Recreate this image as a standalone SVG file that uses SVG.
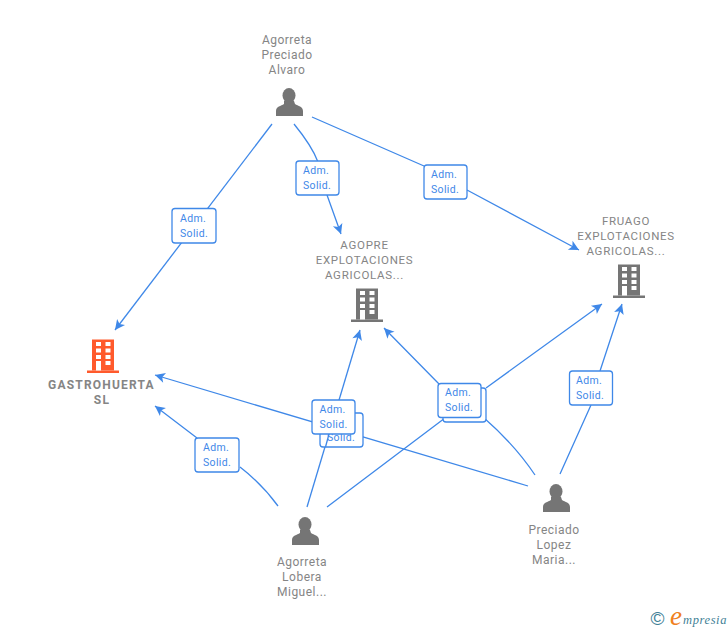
<svg xmlns="http://www.w3.org/2000/svg" width="728" height="630" viewBox="0 0 728 630">
<style>
text{font-family:Roboto,"Liberation Sans",sans-serif}
.l{font-size:12px;fill:#858585;text-anchor:middle;letter-spacing:.5px}
.c{font-size:11.5px;fill:#858585;text-anchor:middle;letter-spacing:.7px}
.b{font-weight:700;font-size:12px;letter-spacing:1.2px}
.e{fill:none;stroke:#3f88e8;stroke-width:1.3}
.bx{fill:#fff;stroke:#3f88e8;stroke-width:1.3}
.t{font-size:10.5px;fill:#3f88e8;letter-spacing:.35px}
.p{fill:#757575}
.w{fill:#fff}
</style>
<defs>
<marker id="a" markerUnits="userSpaceOnUse" markerWidth="14" markerHeight="14" refX="10" refY="5" orient="auto" overflow="visible"><path d="M0 0L10 5L0 10L2.500 5Z" fill="#3f88e8"/></marker>
<g id="person"><ellipse cx="0" cy="-14.500" rx="6.500" ry="7.500"/><path d="M-5 -9h10l1 3c3 2 8 2.500 8 7v5h-27v-5c0-4.500 5-5 8-7z"/></g>
<g id="bldg"><path d="M-11 -33.500h22v31h-22z"/><path d="M-16 -2.500h32v2.500h-32z"/></g>
<g id="win" class="w"><rect x="-7" y="-31" width="5" height="4"/><rect x="2.500" y="-31" width="5" height="4"/><rect x="-7" y="-24.500" width="5" height="4"/><rect x="2.500" y="-24.500" width="5" height="4"/><rect x="-7" y="-18" width="5" height="4"/><rect x="2.500" y="-18" width="5" height="4"/><rect x="-7" y="-12" width="5" height="9.500"/><rect x="2.500" y="-12" width="5" height="4"/></g>
</defs>
<g id="connectors">
<path class="e" marker-end="url(#a)" d="M272 124L115 330"/>
<path class="e" marker-end="url(#a)" d="M294 124Q312 146 318 162M327 195L341 234"/>
<path class="e" marker-end="url(#a)" d="M312 117L424 166M467 190L579 250"/>
<path class="e" marker-end="url(#a)" d="M528 486L155 375"/>
<path class="e" marker-end="url(#a)" d="M535 475Q515 445 483 417M440 385L384 328"/>
<path class="e" marker-end="url(#a)" d="M327 507L445 418M486 388L602 304"/>
<path class="e" marker-end="url(#a)" d="M307 507L360 330"/>
<path class="e" marker-end="url(#a)" d="M278 506Q262 484 240 467M197 438L155 406"/>
<path class="e" marker-end="url(#a)" d="M560 474L591 405M600 371L622 304"/>
</g>
<g id="edge-labels">
<g><rect class="bx" x="172" y="208.500" width="44" height="34.500" rx="3"/><text class="t" x="180" y="222">Adm.</text><text class="t" x="180" y="237">Solid.</text></g>
<g><rect class="bx" x="296" y="161" width="43" height="34" rx="3"/><text class="t" x="303" y="174">Adm.</text><text class="t" x="303" y="189">Solid.</text></g>
<g><rect class="bx" x="424" y="165" width="43" height="34" rx="3"/><text class="t" x="431" y="178">Adm.</text><text class="t" x="431" y="193">Solid.</text></g>
<g><rect class="bx" x="320" y="413" width="43" height="34" rx="3"/><text class="t" x="327" y="441">Solid.</text></g>
<path class="e" d="M329 434L325.500 447"/>
<g><rect class="bx" x="312" y="400" width="43" height="34" rx="3"/><text class="t" x="319.500" y="413">Adm.</text><text class="t" x="319.500" y="428">Solid.</text></g>
<g><rect class="bx" x="443" y="388" width="43" height="34" rx="3"/></g>
<g><rect class="bx" x="438" y="383.500" width="43" height="34" rx="3"/><text class="t" x="445" y="396">Adm.</text><text class="t" x="445" y="411">Solid.</text></g>
<g><rect class="bx" x="569.500" y="371" width="43" height="34" rx="3"/><text class="t" x="576" y="384">Adm.</text><text class="t" x="576" y="399">Solid.</text></g>
<g><rect class="bx" x="195" y="438" width="44" height="34" rx="3"/><text class="t" x="203" y="451">Adm.</text><text class="t" x="203" y="466">Solid.</text></g>
</g>
<g id="n-alvaro"><text class="l" x="287" y="44">Agorreta</text><text class="l" x="287" y="59">Preciado</text><text class="l" x="287" y="74">Alvaro</text><use href="#person" class="p" x="289" y="110"/></g>
<g id="n-agopre"><text class="c" x="364.500" y="249">AGOPRE</text><text class="c" x="364.500" y="264">EXPLOTACIONES</text><text class="c" x="364.500" y="279">AGRICOLAS...</text><g transform="translate(367 322)"><use href="#bldg" class="p"/><use href="#win"/></g></g>
<g id="n-fruago"><text class="c" x="626" y="225">FRUAGO</text><text class="c" x="626" y="240">EXPLOTACIONES</text><text class="c" x="626" y="255">AGRICOLAS...</text><g transform="translate(629 298)"><use href="#bldg" class="p"/><use href="#win"/></g></g>
<g id="n-gastro"><text class="l b" x="101.500" y="389">GASTROHUERTA</text><text class="l b" x="102" y="404">SL</text><g transform="translate(103 373)"><use href="#bldg" style="fill:#ff5a2c"/><use href="#win"/></g></g>
<g id="n-lobera"><text class="l" x="302" y="566">Agorreta</text><text class="l" x="302" y="581">Lobera</text><text class="l" x="302" y="596">Miguel...</text><use href="#person" class="p" x="305" y="539"/></g>
<g id="n-maria"><text class="l" x="554" y="534">Preciado</text><text class="l" x="554" y="549">Lopez</text><text class="l" x="554" y="564">Maria...</text><use href="#person" class="p" x="556" y="506"/></g>
<g id="logo"><text x="650.500" y="625" font-size="19" fill="#3f7f96" style="font-family:'Liberation Sans',sans-serif">©</text><text x="670" y="625" font-size="27" font-style="italic" fill="#f08020" style="font-family:'Liberation Serif',serif">e</text><text x="683" y="624" font-size="12.500" font-style="italic" fill="#3f7f96" style="font-family:'Liberation Serif',serif;letter-spacing:.6px">mpresia</text></g>
</svg>
